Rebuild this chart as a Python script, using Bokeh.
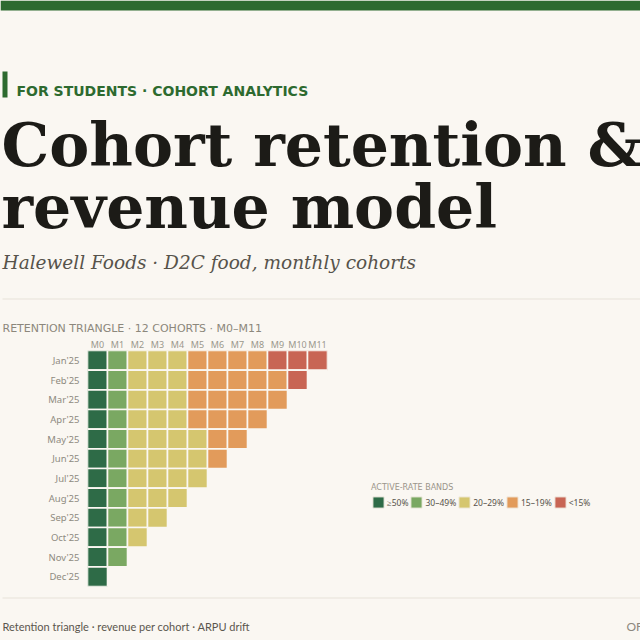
import numpy as np
from bokeh.plotting import figure
from bokeh.models import Range1d, FactorRange, ColumnDataSource, Label, Legend, LegendItem
from bokeh.layouts import column, row
from bokeh.embed import file_html
from bokeh.resources import INLINE

# ---------------- data ----------------
months = ["M0", "M1", "M2", "M3", "M4", "M5", "M6", "M7", "M8", "M9", "M10", "M11"]
cohorts = ["Jan'25", "Feb'25", "Mar'25", "Apr'25", "May'25", "Jun'25",
           "Jul'25", "Aug'25", "Sep'25", "Oct'25", "Nov'25", "Dec'25"]
# active rate (%) by cohort and month since signup (estimated from colour bands)
ret_jan = [100, 38, 28, 24, 21, 19, 17, 16, 15, 14, 13, 12]
ret_feb = [100, 39, 28, 25, 22, 19, 18, 17, 16, 15, 14]
ret_mar = [100, 40, 29, 25, 22, 19, 18, 17, 16, 15]
ret_apr = [100, 41, 29, 26, 23, 19, 18, 17, 16]
ret_may = [100, 42, 29, 26, 23, 20, 19, 18]
ret_jun = [100, 42, 29, 26, 23, 20, 19]
ret_jul = [100, 43, 29, 26, 24, 21]
ret_aug = [100, 43, 29, 26, 24]
ret_sep = [100, 44, 29, 26]
ret_oct = [100, 44, 29]
ret_nov = [100, 45]
ret_dec = [100]
retention = [ret_jan, ret_feb, ret_mar, ret_apr, ret_may, ret_jun,
             ret_jul, ret_aug, ret_sep, ret_oct, ret_nov, ret_dec]

band_labels = ["≥50%", "30–49%", "20–29%", "15–19%", "<15%"]
band_floors = [50, 30, 20, 15, 0]
band_colors = ["#2e6b47", "#7aa862", "#d5c66f", "#e29b5b", "#c86554"]

# ---------------- style ----------------
BG = "#faf7f2"
W = 640
GREEN = "#2d6a2f"
INK = "#1c1b17"

def blank(width, height, x_range, y_range):
    f = figure(width=width, height=height, x_range=x_range, y_range=y_range,
               x_axis_location=None, y_axis_location=None, output_backend="svg",
               toolbar_location=None, min_border=0, background_fill_color=BG,
               border_fill_color=BG, outline_line_color=None, frame_align=False)
    f.grid.visible = False
    return f

def lab(fig, x, y, text, font, size, color, style="normal", baseline="alphabetic", align="left"):
    fig.add_layout(Label(x=x, y=y, text=text, text_font=font, text_font_size=size,
                         text_color=color, text_font_style=style,
                         text_baseline=baseline, text_align=align))

# ---------------- header ----------------
H1 = 334
hdr = blank(W, H1, Range1d(0, W), Range1d(H1, 0))
hdr.quad(left=0, right=W, top=0, bottom=10, fill_color=GREEN, line_color=None)
hdr.quad(left=2, right=7, top=71, bottom=97, fill_color=GREEN, line_color=None)
hdr.segment(x0=2, y0=298.5, x1=W, y1=298.5, line_color="#e7e2d9", line_width=1)

lab(hdr, 16, 90, "FOR STUDENTS · COHORT ANALYTICS", "DejaVu Sans", "14px", GREEN, "bold")
lab(hdr, 1, 144, "Cohort retention &", "DejaVu Serif", "60px", INK, "bold")
lab(hdr, 1, 206, "revenue model", "DejaVu Serif", "60px", INK, "bold")
lab(hdr, 2, 262, "Halewell Foods · D2C food, monthly cohorts", "DejaVu Serif", "18.5px",
    "#57534b", "italic")
lab(hdr, 2, 328, "RETENTION TRIANGLE · 12 COHORTS · M0–M11", "DejaVu Sans", "11px",
    "#8c877c", "normal", "middle")

# ---------------- heatmap ----------------
H2 = 258
HM_W = 87 + 240 + 13
hm = figure(width=HM_W, height=H2, x_range=FactorRange(factors=months),
            y_range=FactorRange(factors=cohorts[::-1]), x_axis_location="above",
            output_backend="svg", toolbar_location=None,
            min_border_left=87, min_border_right=13, min_border_top=8,
            min_border_bottom=6, background_fill_color=BG, border_fill_color=BG,
            outline_line_color=None, frame_align=False)
hm.grid.visible = False

cells = {i: {"m": [], "c": [], "v": []} for i in range(len(band_labels))}
for ci, row_vals in enumerate(retention):
    for mi, v in enumerate(row_vals):
        b = next(k for k, f in enumerate(band_floors) if v >= f)
        cells[b]["m"].append(months[mi])
        cells[b]["c"].append(cohorts[ci])
        cells[b]["v"].append(v)

for b in range(len(band_labels)):
    hm.rect(x="m", y="c", width=1, height=1, source=ColumnDataSource(cells[b]),
            fill_color=band_colors[b], line_color=BG, line_width=1.6)

for ax in (hm.xaxis, hm.yaxis):
    ax.axis_line_color = None
    ax.major_tick_line_color = None
    ax.minor_tick_line_color = None
    ax.major_tick_out = 0
    ax.major_tick_in = 0
    ax.major_label_text_font = "Noto Sans"
hm.xaxis.major_label_text_font_size = "9px"
hm.xaxis.major_label_text_color = "#9b978d"
hm.xaxis.major_label_standoff = 0
hm.xaxis.major_label_text_line_height = 0.8
hm.yaxis.major_label_text_font_size = "9.5px"
hm.yaxis.major_label_text_color = "#8e8a80"
hm.yaxis.major_label_standoff = 8

# ---------------- legend panel ----------------
LG_W = W - HM_W
lgf = blank(LG_W, H2, Range1d(0, 1), Range1d(0, 1))
items = []
for b in range(len(band_labels)):
    # legend-only renderer: a single undefined (NaN) point, never drawn in the frame
    r = lgf.rect(x=np.array([np.nan]), y=np.array([np.nan]), width=1, height=1,
                 fill_color=band_colors[b], line_color="#f1ece2", line_width=1)
    items.append(LegendItem(label=band_labels[b], renderers=[r]))
lg = Legend(items=items, location=(31, 83), orientation="horizontal",
            title="ACTIVE-RATE BANDS", title_text_font="DejaVu Sans",
            title_text_font_size="8px", title_text_font_style="normal",
            title_text_color="#9a958a", title_standoff=3,
            label_text_font="Noto Sans", label_text_font_size="8.5px",
            label_text_color="#57534b", glyph_width=14, glyph_height=14,
            label_standoff=2, spacing=1, padding=0, margin=0,
            border_line_color=None, background_fill_alpha=0)
lgf.add_layout(lg)

# ---------------- footer ----------------
H3 = W - H1 - H2
ftr = blank(W, H3, Range1d(0, W), Range1d(W, H1 + H2))
ftr.segment(x0=2, y0=597.5, x1=W, y1=597.5, line_color="#e7e2d9", line_width=1)
lab(ftr, 2, 626, "Retention triangle · revenue per cohort · ARPU drift", "Lato",
    "11px", "#5a564e", "normal", "middle")
lab(ftr, 626, 626, "OF", "Lato", "12px", "#8d887e", "normal", "middle")

layout = column(hdr, row(hm, lgf, spacing=0), ftr, spacing=0)

html = file_html(layout, INLINE)
i = html.rfind("</head>")
html = html[:i] + "<style>html,body{margin:0;padding:0;background:%s}</style>" % BG + html[i:]
open("out.html", "w").write(html)
